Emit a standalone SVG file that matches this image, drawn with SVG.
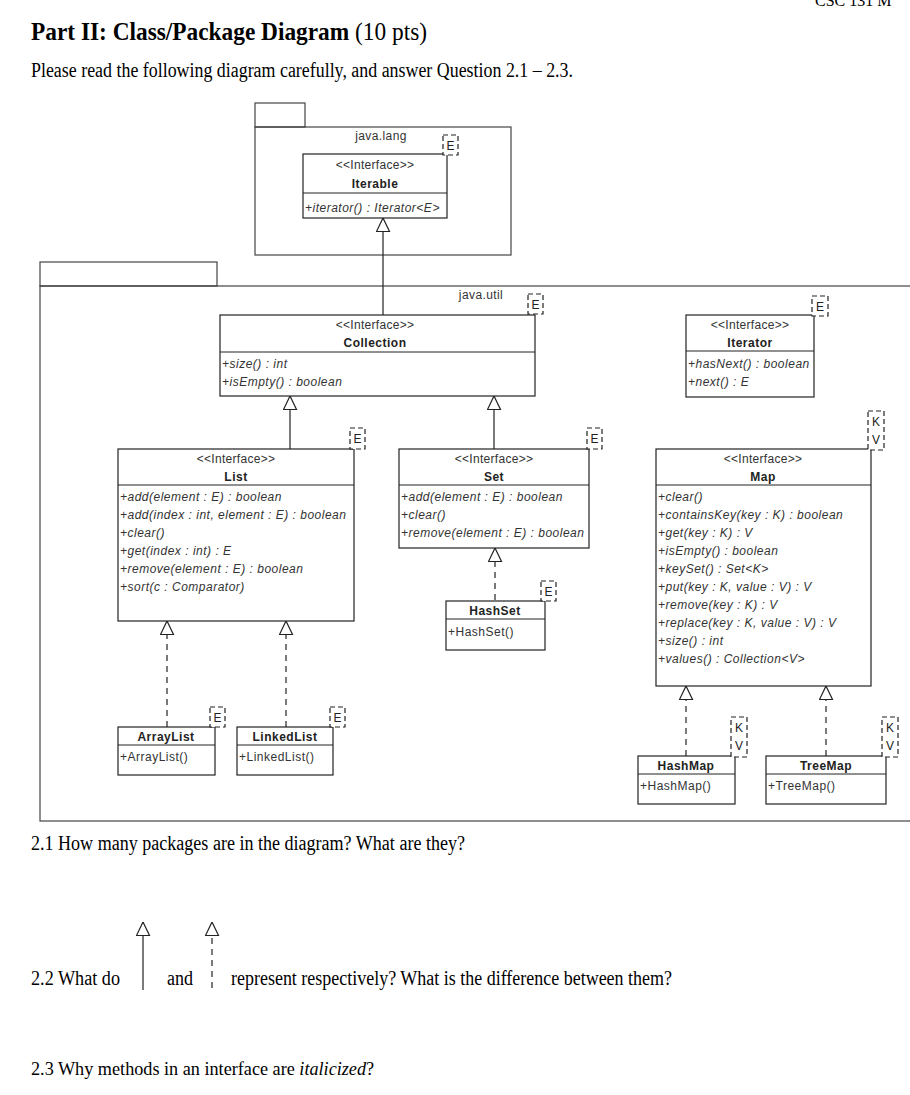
<svg xmlns="http://www.w3.org/2000/svg" width="910" height="1095" viewBox="0 0 910 1095">
<style>
.bg{fill:#fff}
.box{fill:#fff;stroke:#222;stroke-width:1.2}
.pkg{fill:none;stroke:#444;stroke-width:1.2}
.div{stroke:#222;stroke-width:1}
.tpl{fill:#fff;stroke:#222;stroke-width:1.2;stroke-dasharray:5,3}
.st{font-family:"Liberation Sans",Arial,sans-serif;font-size:12px;letter-spacing:0.3px;fill:#333;text-anchor:middle}
.nm{font-family:"Liberation Sans",Arial,sans-serif;font-size:12px;letter-spacing:0.5px;font-weight:bold;fill:#222;text-anchor:middle}
.m{font-family:"Liberation Sans",Arial,sans-serif;font-size:12px;letter-spacing:0.5px;font-style:italic;fill:#333}
.c{font-family:"Liberation Sans",Arial,sans-serif;font-size:12px;letter-spacing:0.5px;fill:#333}
.pl{font-family:"Liberation Sans",Arial,sans-serif;font-size:12px;letter-spacing:0.4px;fill:#333;text-anchor:middle}
.tl{font-family:"Liberation Sans",Arial,sans-serif;font-size:12px;fill:#222;text-anchor:middle}
.q{font-family:"Liberation Serif","Times New Roman",serif;font-size:20px;fill:#000}
.gen{stroke:#222;stroke-width:1.2;fill:none}
.real{stroke:#222;stroke-width:1.2;fill:none;stroke-dasharray:6,5}
</style>
<defs>
<marker id="tri" viewBox="0 0 15 15" refX="14.5" refY="7.5" markerWidth="15" markerHeight="15" orient="auto" markerUnits="userSpaceOnUse">
<path d="M1,1 L14.5,7.5 L1,14 Z" fill="#fff" stroke="#222" stroke-width="1.2"/>
</marker>
</defs>
<rect class="bg" x="0" y="0" width="910" height="1095"/>

<text class="q" x="815" y="6" style="font-size:16px">CSC 131 M</text>
<text class="q" x="31" y="40" style="font-size:25px" textLength="396" lengthAdjust="spacingAndGlyphs"><tspan font-weight="bold">Part II: Class/Package Diagram</tspan> (10 pts)</text>
<text class="q" x="31" y="77" textLength="542" lengthAdjust="spacingAndGlyphs">Please read the following diagram carefully, and answer Question 2.1 – 2.3.</text>

<g id="pkg-java-lang">
<rect class="pkg" x="255" y="103" width="50" height="24"/>
<rect class="pkg" x="255" y="127" width="256" height="128"/>
<text class="pl" x="381" y="140">java.lang</text>
</g>

<g id="pkg-java-util">
<rect class="pkg" x="40" y="262" width="177" height="24"/>
<rect class="pkg" x="40" y="286" width="880" height="535"/>
<text class="pl" x="481" y="299">java.util</text>
</g>

<g id="connectors">
<line class="gen" x1="383" y1="315" x2="383" y2="218" marker-end="url(#tri)"/>
<line class="gen" x1="290" y1="449" x2="290" y2="396" marker-end="url(#tri)"/>
<line class="gen" x1="494" y1="449" x2="494" y2="396" marker-end="url(#tri)"/>
<line class="real" x1="495" y1="600" x2="495" y2="548" marker-end="url(#tri)"/>
<line class="real" x1="167" y1="727" x2="167" y2="621" marker-end="url(#tri)"/>
<line class="real" x1="286" y1="727" x2="286" y2="621" marker-end="url(#tri)"/>
<line class="real" x1="686" y1="756" x2="686" y2="686" marker-end="url(#tri)"/>
<line class="real" x1="826" y1="756" x2="826" y2="686" marker-end="url(#tri)"/>
</g>

<g id="Iterable">
<rect class="box" x="303" y="154" width="144" height="64"/>
<line class="div" x1="303" y1="193" x2="447" y2="193"/>
<text class="st" x="375" y="169">&lt;&lt;Interface&gt;&gt;</text>
<text class="nm" x="375" y="188">Iterable</text>
<text class="m" x="305" y="212">+iterator() : Iterator&lt;E&gt;</text>
<rect class="tpl" x="443" y="135" width="15" height="20"/>
<text class="tl" x="450.5" y="150">E</text>
</g>

<g id="Collection">
<rect class="box" x="220" y="315" width="315" height="81"/>
<line class="div" x1="220" y1="352" x2="535" y2="352"/>
<text class="st" x="375" y="329">&lt;&lt;Interface&gt;&gt;</text>
<text class="nm" x="375" y="347">Collection</text>
<text class="m" x="222" y="368">+size() : int</text>
<text class="m" x="222" y="386">+isEmpty() : boolean</text>
<rect class="tpl" x="528" y="294" width="15" height="20"/>
<text class="tl" x="535.5" y="309">E</text>
</g>

<g id="Iterator">
<rect class="box" x="686" y="315" width="128" height="82"/>
<line class="div" x1="686" y1="351" x2="814" y2="351"/>
<text class="st" x="750" y="329">&lt;&lt;Interface&gt;&gt;</text>
<text class="nm" x="750" y="347">Iterator</text>
<text class="m" x="688" y="368">+hasNext() : boolean</text>
<text class="m" x="688" y="386">+next() : E</text>
<rect class="tpl" x="812" y="296" width="16" height="20"/>
<text class="tl" x="820" y="311">E</text>
</g>

<g id="List">
<rect class="box" x="118" y="449" width="236" height="172"/>
<line class="div" x1="118" y1="485" x2="354" y2="485"/>
<text class="st" x="236" y="463">&lt;&lt;Interface&gt;&gt;</text>
<text class="nm" x="236" y="481">List</text>
<text class="m" x="120" y="501">+add(element : E) : boolean</text>
<text class="m" x="120" y="519">+add(index : int, element : E) : boolean</text>
<text class="m" x="120" y="537">+clear()</text>
<text class="m" x="120" y="555">+get(index : int) : E</text>
<text class="m" x="120" y="573">+remove(element : E) : boolean</text>
<text class="m" x="120" y="591">+sort(c : Comparator)</text>
<rect class="tpl" x="350" y="428" width="15" height="21"/>
<text class="tl" x="357.5" y="443">E</text>
</g>

<g id="Set">
<rect class="box" x="399" y="449" width="190" height="99"/>
<line class="div" x1="399" y1="485" x2="589" y2="485"/>
<text class="st" x="494" y="463">&lt;&lt;Interface&gt;&gt;</text>
<text class="nm" x="494" y="481">Set</text>
<text class="m" x="401" y="501">+add(element : E) : boolean</text>
<text class="m" x="401" y="519">+clear()</text>
<text class="m" x="401" y="537">+remove(element : E) : boolean</text>
<rect class="tpl" x="587" y="428" width="15" height="21"/>
<text class="tl" x="594.5" y="443">E</text>
</g>

<g id="HashSet">
<rect class="box" x="446" y="601" width="99" height="49"/>
<line class="div" x1="446" y1="619" x2="545" y2="619"/>
<text class="nm" x="495" y="615">HashSet</text>
<text class="c" x="448" y="636">+HashSet()</text>
<rect class="tpl" x="541" y="581" width="15" height="20"/>
<text class="tl" x="548.5" y="596">E</text>
</g>

<g id="Map">
<rect class="box" x="656" y="449" width="215" height="237"/>
<line class="div" x1="656" y1="485" x2="871" y2="485"/>
<text class="st" x="763" y="463">&lt;&lt;Interface&gt;&gt;</text>
<text class="nm" x="763" y="481">Map</text>
<text class="m" x="658" y="501">+clear()</text>
<text class="m" x="658" y="519">+containsKey(key : K) : boolean</text>
<text class="m" x="658" y="537">+get(key : K) : V</text>
<text class="m" x="658" y="555">+isEmpty() : boolean</text>
<text class="m" x="658" y="573">+keySet() : Set&lt;K&gt;</text>
<text class="m" x="658" y="591">+put(key : K, value : V) : V</text>
<text class="m" x="658" y="609">+remove(key : K) : V</text>
<text class="m" x="658" y="627">+replace(key : K, value : V) : V</text>
<text class="m" x="658" y="645">+size() : int</text>
<text class="m" x="658" y="663">+values() : Collection&lt;V&gt;</text>
<rect class="tpl" x="868" y="411" width="16" height="39"/>
<text class="tl" x="876" y="426">K</text>
<text class="tl" x="876" y="444">V</text>
</g>

<g id="ArrayList">
<rect class="box" x="118" y="727" width="97" height="48"/>
<line class="div" x1="118" y1="745" x2="215" y2="745"/>
<text class="nm" x="166" y="741">ArrayList</text>
<text class="c" x="120" y="761">+ArrayList()</text>
<rect class="tpl" x="210" y="707" width="15" height="20"/>
<text class="tl" x="217.5" y="722">E</text>
</g>

<g id="LinkedList">
<rect class="box" x="237" y="727" width="96" height="48"/>
<line class="div" x1="237" y1="745" x2="333" y2="745"/>
<text class="nm" x="285" y="741">LinkedList</text>
<text class="c" x="239" y="761">+LinkedList()</text>
<rect class="tpl" x="330" y="707" width="15" height="20"/>
<text class="tl" x="337.5" y="722">E</text>
</g>

<g id="HashMap">
<rect class="box" x="638" y="756" width="97" height="48"/>
<line class="div" x1="638" y1="774" x2="735" y2="774"/>
<text class="nm" x="686" y="770">HashMap</text>
<text class="c" x="640" y="790">+HashMap()</text>
<rect class="tpl" x="731" y="717" width="16" height="40"/>
<text class="tl" x="739" y="732">K</text>
<text class="tl" x="739" y="750">V</text>
</g>

<g id="TreeMap">
<rect class="box" x="766" y="756" width="120" height="48"/>
<line class="div" x1="766" y1="774" x2="886" y2="774"/>
<text class="nm" x="826" y="770">TreeMap</text>
<text class="c" x="768" y="790">+TreeMap()</text>
<rect class="tpl" x="882" y="717" width="16" height="40"/>
<text class="tl" x="890" y="732">K</text>
<text class="tl" x="890" y="750">V</text>
</g>

<text class="q" x="31" y="850" textLength="434" lengthAdjust="spacingAndGlyphs">2.1 How many packages are in the diagram? What are they?</text>
<text class="q" x="31" y="985" textLength="89" lengthAdjust="spacingAndGlyphs">2.2 What do</text>
<line class="gen" x1="143" y1="990" x2="143" y2="922" marker-end="url(#tri)"/>
<text class="q" x="167" y="985" textLength="26" lengthAdjust="spacingAndGlyphs">and</text>
<line class="real" x1="212" y1="988" x2="212" y2="922" stroke-dasharray="5,5" marker-end="url(#tri)"/>
<text class="q" x="231" y="985" textLength="441" lengthAdjust="spacingAndGlyphs">represent respectively? What is the difference between them?</text>
<text class="q" x="31" y="1075" style="font-size:18.2px">2.3 Why methods in an interface are <tspan font-style="italic">italicized</tspan>?</text>
</svg>
